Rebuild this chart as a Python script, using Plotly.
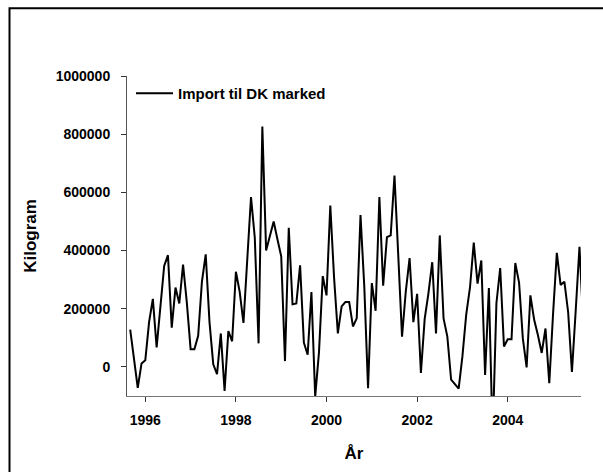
import plotly.graph_objects as go

# Monthly import figures, Sep 1995 .. Sep 2005 (last point lies just beyond the axis)
start_year = 1995
start_month = 9
values = [
    128000, 35000, -72000, 12000, 23000, 154000, 234000, 67000, 208000, 347000,
    384000, 135000, 273000, 218000, 352000, 221000, 61000, 61000, 107000, 293000,
    387000, 154000, 9000, -25000, 115000, -83000, 123000, 88000, 327000, 258000,
    151000, 349000, 584000, 444000, 81000, 826000, 400000, 450000, 500000, 439000,
    380000, 20000, 478000, 215000, 218000, 349000, 84000, 42000, 257000, -102000,
    50000, 312000, 246000, 555000, 307000, 115000, 208000, 223000, 223000, 139000,
    167000, 522000, 277000, -73000, 288000, 193000, 584000, 279000, 446000, 452000,
    658000, 383000, 104000, 260000, 374000, 154000, 251000, -21000, 165000, 254000,
    360000, 115000, 452000, 167000, 104000, -44000, -58000, -75000, 37000, 180000,
    273000, 427000, 286000, 366000, -28000, 271000, -245000, 219000, 340000, 70000,
    95000, 95000, 357000, 290000, 98000, -2000, 246000, 162000, 109000, 48000,
    132000, -56000, 182000, 392000, 282000, 293000, 188000, -17000, 193000, 413000,
    150000,
]
years = [start_year + (start_month - 1 + i) / 12 for i in range(len(values))]

x_ticks = [1996, 1998, 2000, 2002, 2004]
y_ticks = [0, 200000, 400000, 600000, 800000, 1000000]
x_range = [1995.596, 2005.617]
y_range = [-100000, 1000000]

series_name = "Import til DK marked"
x_title = "År"
y_title = "Kilogram"

FONT = "Arial, Liberation Sans, sans-serif"

fig = go.Figure()
fig.add_trace(go.Scatter(
    x=years, y=values, mode="lines", name=series_name,
    line=dict(color="black", width=2),
))

W, H = 603, 472
L, R, T, B = 127, 22, 76, 68
pw, ph = W - L - R, H - T - B

def px_x(p):
    return (p - L) / pw

def px_y(p):
    return (H - B - p) / ph

# outer frame: only its top and left edges fall inside the page
fig.add_shape(type="rect", xref="paper", yref="paper", layer="above",
              x0=px_x(9.5), x1=px_x(W + 30), y0=px_y(H + 30), y1=px_y(6.5),
              line=dict(color="black", width=2), fillcolor="rgba(0,0,0,0)")

fig.update_layout(
    width=W, height=H,
    margin=dict(l=L, r=R, t=T, b=B),
    paper_bgcolor="white", plot_bgcolor="white",
    font=dict(family=FONT, size=14, color="black"),
    showlegend=True,
    legend=dict(x=px_x(131), y=px_y(77), xanchor="left", yanchor="top",
                bgcolor="rgba(0,0,0,0)", borderwidth=0,
                font=dict(family=FONT, size=15, color="black", weight="bold"),
                itemwidth=37),
    xaxis=dict(range=x_range, tickvals=x_ticks, tickformat="d",
               showgrid=False, zeroline=False, showline=True,
               linecolor="#777", linewidth=1,
               ticks="outside", ticklen=5, tickcolor="#333",
               ticklabelstandoff=6,
               tickfont=dict(family=FONT, size=14, color="black", weight="bold"),
               title=dict(text=x_title, standoff=20,
                          font=dict(family=FONT, size=17, color="black", weight="bold"))),
    yaxis=dict(range=y_range, tickvals=y_ticks, tickformat="d",
               showgrid=False, zeroline=False, showline=True,
               linecolor="#555", linewidth=1,
               ticks="outside", ticklen=5, tickcolor="#333",
               ticklabelstandoff=8,
               tickfont=dict(family=FONT, size=14, color="black", weight="bold"),
               title=dict(text=y_title, standoff=14,
                          font=dict(family=FONT, size=17, color="black", weight="bold"))),
)

post = (
    "document.documentElement.style.margin='0';"
    "document.documentElement.style.overflow='hidden';"
    "document.body.style.margin='0';"
    "document.body.style.overflow='hidden';"
    "window.scrollTo(0,0);"
)
fig.write_html("out.html", config={"displayModeBar": False}, post_script=post)
